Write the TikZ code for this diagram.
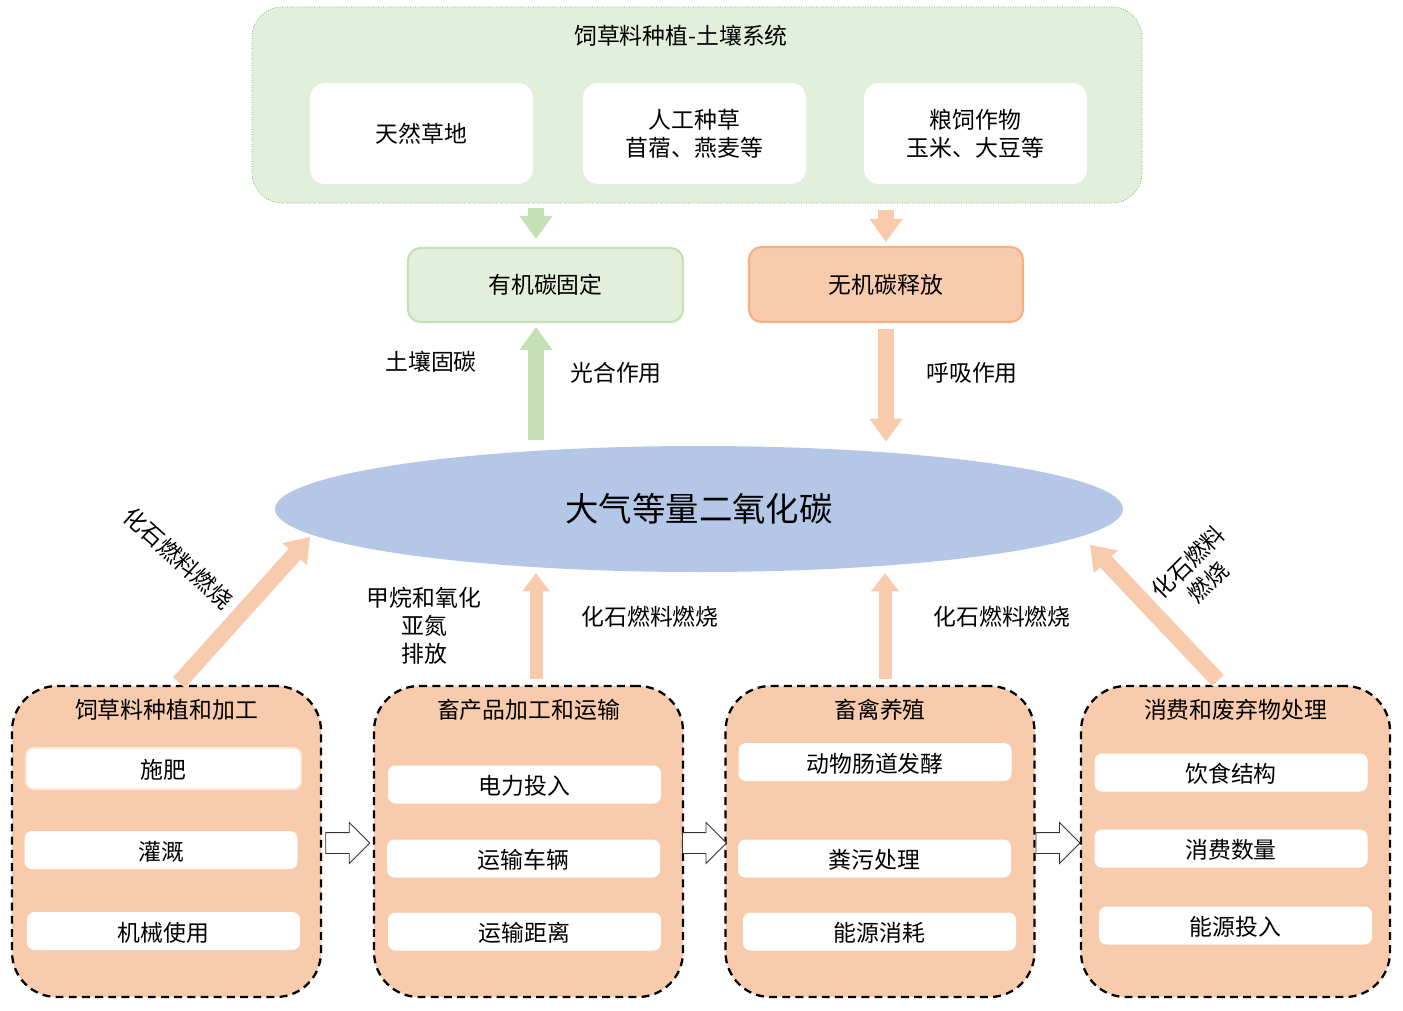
\documentclass[tikz,border=0pt]{standalone}
\usepackage{fontspec}
\setmainfont{Noto Sans CJK SC}
\usetikzlibrary{positioning,calc,arrows.meta,shapes.geometric,shapes.arrows}
\definecolor{lgreen}{HTML}{E2EFDA}
\definecolor{mgreen}{HTML}{C5E0B4}
\definecolor{peach}{HTML}{F8CBAD}
\definecolor{dpeach}{HTML}{F4B183}
\definecolor{skyblue}{HTML}{B4C7E7}

\begin{document}
\begin{tikzpicture}[font=\fontsize{13pt}{16pt}\selectfont,
  whitebox/.style={fill=white, rounded corners=0.3cm, minimum width=4.46cm, minimum height=2.02cm, align=center},
  stage/.style={draw, line width=1.3pt, dash pattern=on 4.5pt off 3pt, fill=peach, rounded corners=0.9cm, minimum width=6.18cm, minimum height=6.22cm},
  item/.style={fill=white, rounded corners=0.15cm, minimum width=5.46cm, minimum height=0.76cm, inner sep=0pt, text height=1.3em, text depth=0.12em},
  fat/.style={line width=0.32cm, -{Triangle[length=0.46cm, width=0.66cm, line width=0pt]}},
  slim/.style={line width=0.26cm, -{Triangle[length=0.36cm, width=0.56cm, line width=0pt]}},
  hollow/.style={single arrow, draw=black!80, fill=white, line width=0.5pt, minimum height=0.88cm, minimum width=0.8cm, single arrow head extend=0.2cm, inner xsep=0pt, inner ysep=0.2cm}]
  \useasboundingbox (0,0) rectangle (28.06,-20.2);

  \node[draw=gray!70!green, densely dotted, line width=0.4pt, fill=lgreen, rounded corners=0.6cm, minimum width=17.8cm, minimum height=3.92cm] (top) at (13.94,-2.10) {};
  \node (toptitle) at (13.62,-0.72) {饲草料种植-土壤系统};
  \node[whitebox] (grass) at (8.43,-2.67) {天然草地};
  \node[whitebox] (sown) at (13.89,-2.67) {人工种草\\苜蓿、燕麦等};
  \node[whitebox] (crop) at (19.51,-2.67) {粮饲作物\\玉米、大豆等};

  \node[draw=mgreen, line width=1.2pt, fill=lgreen, rounded corners=0.25cm, minimum width=5.5cm, minimum height=1.48cm] (fix) at (10.91,-5.70) {有机碳固定};
  \node[draw=dpeach, line width=1.2pt, fill=peach, rounded corners=0.25cm, minimum width=5.48cm, minimum height=1.5cm] (rel) at (17.72,-5.69) {无机碳释放};

  \node[ellipse, fill=skyblue, minimum width=16.96cm, minimum height=2.52cm, inner sep=0pt, font=\fontsize{19pt}{22pt}\selectfont] (air) at (13.98,-10.18) {大气等量二氧化碳};

  \foreach \i/\x/\t in {1/3.33/饲草料种植和加工, 2/10.57/畜产品加工和运输, 3/17.60/畜禽养殖, 4/24.71/消费和废弃物处理} {
    \node[stage] (b\i) at (\x,-16.83) {};
    \node (t\i) at ([yshift=-0.5cm]b\i.north) {\t};
  }
  \node[item, draw=peach!40, line width=1pt, minimum width=5.5cm, minimum height=0.82cm] (i11) at (3.27,-15.37) {施肥};
  \foreach \n/\x/\y/\t in {i12/3.22/-17.00/灌溉, i13/3.27/-18.62/机械使用,
      i21/10.49/-15.69/电力投入, i22/10.47/-17.17/运输车辆, i23/10.49/-18.63/运输距离,
      i31/17.50/-15.24/动物肠道发酵, i32/17.49/-17.17/粪污处理, i33/17.59/-18.63/能源消耗,
      i41/24.62/-15.45/饮食结构, i42/24.62/-16.97/消费数量, i43/24.71/-18.51/能源投入}
    \node[item] (\n) at (\x,\y) {\t};

  \foreach \a/\b in {b1/b2, b2/b3, b3/b4}
    \node[hollow] (h\a) at ($(\a.east)!0.5!(\b.west)+(-0.1,-0.03)$) {};

  \coordinate (gn) at ([xshift=-0.19cm]fix.north);
  \coordinate (gs) at ([xshift=-0.19cm]fix.south);
  \draw[fat, mgreen, shorten <=0.1cm, shorten >=0.16cm] (gn |- top.south) -- (gn);
  \draw[fat, peach, shorten <=0.14cm, shorten >=0.08cm] (rel.north |- top.south) -- (rel.north);
  \draw[fat, mgreen, shorten <=0.12cm, shorten >=0.08cm] (gs |- air.north) -- (gs);
  \draw[fat, peach, shorten <=0.12cm, shorten >=0.08cm] (rel.south) -- (rel.south |- air.north);

  \coordinate (u2) at ([xshift=0.15cm]b2.north);
  \coordinate (u3) at ([xshift=0.1cm]b3.north);
  \draw[slim, peach, shorten <=0.12cm, shorten >=0.02cm] (u2) -- (u2 |- air.south);
  \draw[slim, peach, shorten <=0.12cm, shorten >=0.02cm] (u3) -- (u3 |- air.south);
  \coordinate (lt) at ($(air.center)+(-7.78,-0.56)$);
  \coordinate (rt) at ($(air.center)+(7.82,-0.72)$);
  \draw[fat, peach, shorten <=0.06cm] ([xshift=0.21cm]b1.north) -- (lt);
  \draw[fat, peach, shorten <=0.12cm] ([xshift=-0.27cm]b4.north) -- (rt);

  \node (soil) at (8.62,-7.24) {土壤固碳};
  \node (photo) at (12.32,-7.46) {光合作用};
  \node (resp) at (19.44,-7.46) {呼吸作用};
  \node[align=center] (ch4) at (8.48,-12.52) {甲烷和氧化\\亚氮\\排放};
  \node (ff2) at (13.0,-12.34) {化石燃料燃烧};
  \node (ff3) at (20.04,-12.34) {化石燃料燃烧};
  \node[rotate=-42] (ff1) at (3.56,-11.16) {化石燃料燃烧};
  \node[rotate=45, align=center] (ff4) at (23.96,-11.44) {化石燃料\\燃烧};
\end{tikzpicture}
\end{document}
